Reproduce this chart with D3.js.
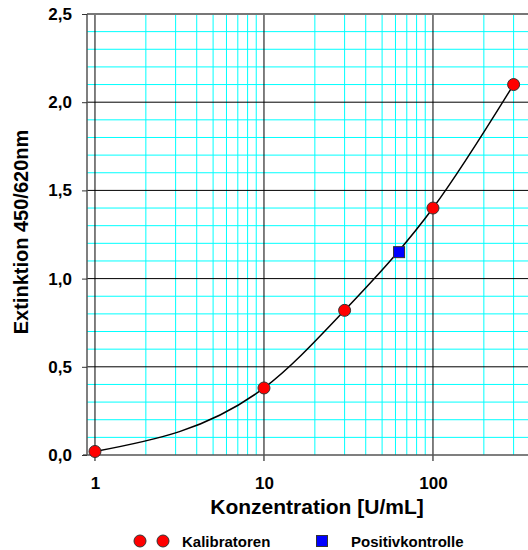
<!DOCTYPE html>
<meta charset="utf-8">
<script src="https://d3js.org/d3.v7.min.js"></script>
<style>
  body { margin: 0; background: #fff; }
  text { font-family: Arial, "Liberation Sans", sans-serif; font-weight: bold; }
</style>
<div id="chart"></div>
<script>
// data
var calConc = [1, 10, 30, 100, 300];
var calExt  = [0.02, 0.38, 0.82, 1.40, 2.10];
var posConc = [63];
var posExt  = [1.15];
var xTicks = [1, 10, 100];
var yTicks = [0, 0.5, 1.0, 1.5, 2.0, 2.5];

var W = 528, H = 550;
var margin = {top: 14, right: 0, bottom: 95, left: 87};
var width = W - margin.left - margin.right,
    height = H - margin.top - margin.bottom;

var svg = d3.select("#chart").append("svg")
    .attr("width", W).attr("height", H)
  .append("g")
    .attr("transform", "translate(" + margin.left + "," + margin.top + ")");

var x = d3.scaleLog().domain([0.897, 365]).range([0, width]);
var y = d3.scaleLinear().domain([0, 2.5]).range([height, 0]);

// minor grid (cyan)
var xMinor = [];
[1, 10, 100].forEach(function(d) {
  for (var k = 2; k <= 9; k++) if (d * k < 365) xMinor.push(d * k);
});
var yMinor = d3.range(1, 25).filter(function(i) { return i % 5 != 0; }).map(function(i) { return i / 10; });

svg.selectAll(".vminor").data(xMinor).enter().append("line")
  .attr("x1", function(d) { return x(d); }).attr("x2", function(d) { return x(d); })
  .attr("y1", 0).attr("y2", height)
  .attr("stroke", "#00ffff").attr("stroke-width", 1);
svg.selectAll(".hminor").data(yMinor).enter().append("line")
  .attr("x1", 0).attr("x2", width)
  .attr("y1", function(d) { return y(d); }).attr("y2", function(d) { return y(d); })
  .attr("stroke", "#00ffff").attr("stroke-width", 1);

// major grid (black)
svg.selectAll(".vmajor").data(xTicks).enter().append("line")
  .attr("x1", function(d) { return x(d); }).attr("x2", function(d) { return x(d); })
  .attr("y1", 0).attr("y2", height + 6)
  .attr("stroke", "#000").attr("stroke-width", 1);
svg.selectAll(".hmajor").data(yTicks.slice(1, 5)).enter().append("line")
  .attr("x1", 0).attr("x2", width)
  .attr("y1", function(d) { return y(d); }).attr("y2", function(d) { return y(d); })
  .attr("stroke", "#000").attr("stroke-width", 1);

// frame
svg.append("line").attr("x1", 0).attr("x2", width).attr("y1", 0).attr("y2", 0)
  .attr("stroke", "#777").attr("stroke-width", 2);
svg.append("line").attr("x1", -4).attr("x2", width).attr("y1", height).attr("y2", height)
  .attr("stroke", "#555").attr("stroke-width", 1.5);
svg.append("line").attr("x1", 0).attr("x2", 0).attr("y1", 0).attr("y2", height)
  .attr("stroke", "#555").attr("stroke-width", 1.5);

// y axis ticks + labels
var yAxis = d3.axisLeft(y).tickValues(yTicks).tickSize(5).tickPadding(10)
  .tickFormat(function(d) { return d3.format(".1f")(d).replace(".", ","); });
var ya = svg.append("g").call(yAxis);
ya.select(".domain").remove();
ya.selectAll("line").attr("stroke", "#333");
ya.selectAll("text").style("font-size", "17px").attr("fill", "#000");

// x axis labels
var xAxis = d3.axisBottom(x).tickValues(xTicks).tickSize(0).tickPadding(22)
  .tickFormat(d3.format("d"));
var xa = svg.append("g").attr("transform", "translate(0," + height + ")").call(xAxis);
xa.select(".domain").remove();
xa.selectAll("text").style("font-size", "17px").attr("fill", "#000");

// axis titles
svg.append("text")
  .attr("x", 317 - margin.left).attr("y", 514 - margin.top)
  .attr("text-anchor", "middle").style("font-size", "21px")
  .text("Konzentration [U/mL]");
svg.append("text")
  .attr("transform", "translate(" + (28 - margin.left) + "," + (232 - margin.top) + ") rotate(-90)")
  .attr("text-anchor", "middle").style("font-size", "20px")
  .text("Extinktion 450/620nm");

// fitted curve
var line = d3.line()
  .x(function(d) { return x(d[0]); })
  .y(function(d) { return y(d[1]); })
  .curve(d3.curveMonotoneX);
svg.append("path")
  .datum(calConc.map(function(c, i) { return [c, calExt[i]]; }))
  .attr("d", line)
  .attr("fill", "none").attr("stroke", "#000").attr("stroke-width", 1.5);

// calibrators
svg.selectAll(".cal").data(calConc).enter().append("circle")
  .attr("cx", function(d) { return x(d); })
  .attr("cy", function(d, i) { return y(calExt[i]); })
  .attr("r", 6)
  .attr("fill", "#ff0000").attr("stroke", "#333").attr("stroke-width", 1);

// positive control
svg.selectAll(".pos").data(posConc).enter().append("rect")
  .attr("x", function(d) { return x(d) - 5.5; })
  .attr("y", function(d, i) { return y(posExt[i]) - 5.5; })
  .attr("width", 11).attr("height", 11)
  .attr("fill", "#0000ff").attr("stroke", "#333").attr("stroke-width", 1);

// legend
var lg = d3.select("svg").append("g");
[140, 163].forEach(function(cx) {
  lg.append("circle").attr("cx", cx).attr("cy", 541).attr("r", 6)
    .attr("fill", "#ff0000").attr("stroke", "#333").attr("stroke-width", 1);
});
lg.append("text").attr("x", 182).attr("y", 547).style("font-size", "15px").text("Kalibratoren");
lg.append("rect").attr("x", 316.5).attr("y", 535.5).attr("width", 11).attr("height", 11)
  .attr("fill", "#0000ff").attr("stroke", "#333").attr("stroke-width", 1);
lg.append("text").attr("x", 351).attr("y", 547).style("font-size", "15px").text("Positivkontrolle");
</script>
